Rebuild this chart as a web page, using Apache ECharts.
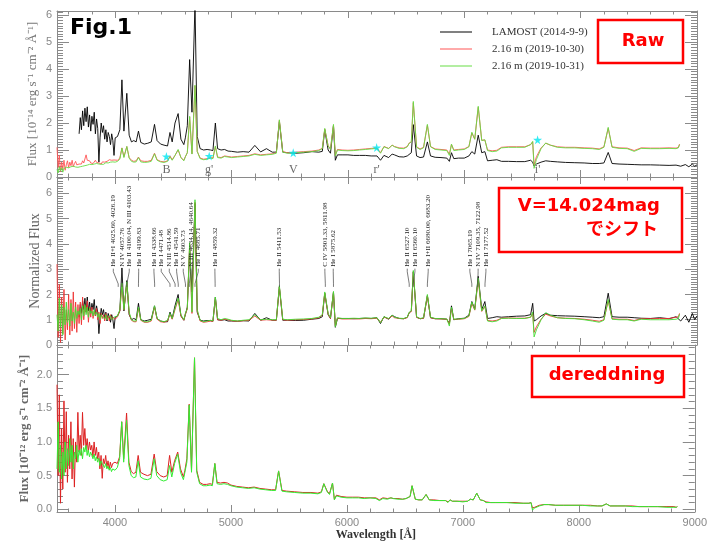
<!DOCTYPE html>
<html><head><meta charset="utf-8">
<script src="https://cdn.jsdelivr.net/npm/echarts@6/dist/echarts.min.js"></script>
<style>html,body{margin:0;padding:0;background:#fff}#c{width:710px;height:542px}</style>
</head><body><div id="c"></div>
<script>
// ---------- wavelength grids (Angstrom) ----------
const WAVE216 = [
3500,3510,3520,3530,3540,3550,3560,3570,3580,3590,
3600,3610,3620,3630,3640,3650,3660,3670,3680,3690,
3700,3710,3720,3730,3740,3750,3760,3770,3780,3790,
3800,3810,3820,3830,3840,3850,3860,3870,3880,3890,
3900,3910,3920,3930,3940,3950,3960,3970,3980,3990,
4000,4020,4040,4058,4075,4100,4120,4140,4160,4180,
4200,4220,4250,4280,4310,4338,4360,4390,4420,4450,
4471,4490,4514,4541,4565,4590,4603,4620,4640,4660,
4686,4705,4730,4760,4790,4820,4840,4861,4880,4910,
4940,4970,5000,5050,5100,5150,5200,5250,5300,5350,
5385,5411,5440,5480,5550,5620,5690,5750,5780,5801,
5830,5850,5876,5892,5910,5950,6000,6050,6100,6150,
6200,6250,6280,6310,6350,6380,6400,6440,6480,6510,
6527,6545,6562,6590,6620,6650,6683,6710,6750,6800,
6850,6872,6890,6910,6950,7000,7040,7065,7090,7120,
7150,7177,7200,7240,7280,7320,7380,7450,7520,7570,
7588,7600,7620,7660,7700,7740,7800,7870,7950,8030,
8100,8160,8200,8237,8270,8330,8400,8460,8520,8600,
8680,8760,8820,8840,8850];
const WAVE_LAMOST = [
3690,3700,3710,3720,3730,3740,3750,3760,3770,3780,
3790,3800,3810,3820,3830,3840,3850,3860,3870,3880,
3890,3900,3910,3920,3930,3940,3950,3960,3970,3980,
3990,4000,4020,4040,4058,4075,4100,4120,4140,4160,
4180,4200,4220,4250,4280,4310,4338,4360,4390,4420,
4450,4471,4490,4514,4541,4565,4590,4603,4620,4640,
4660,4686,4705,4730,4760,4790,4820,4840,4861,4880,
4910,4940,4970,5000,5050,5100,5150,5200,5250,5300,
5350,5385,5411,5440,5480,5550,5620,5690,5750,5780,
5801,5830,5850,5876,5892,5910,5950,6000,6050,6100,
6150,6200,6250,6280,6310,6350,6380,6400,6440,6480,
6510,6527,6545,6562,6590,6620,6650,6683,6710,6750,
6800,6850,6872,6890,6910,6950,7000,7040,7065,7090,
7120,7150,7177,7200,7240,7280,7320,7380,7450,7520,
7570,7588,7600,7620,7660,7700,7740,7800,7870,7950,
8030,8100,8160,8200,8237,8270,8330,8400,8460,8520,
8600,8680,8760,8820,8860,8900,8930,8960,8980,9000];

// ---------- panel 1: raw flux (1e-14) ----------
const rawLamost = [
1.60,2.20,1.75,2.45,1.90,2.55,2.05,2.60,1.85,2.30,
1.70,2.25,1.95,2.40,1.60,2.15,1.80,0.55,1.45,2.00,
1.65,1.90,1.40,1.75,1.30,1.65,1.50,1.20,1.60,1.35,
0.80,1.45,1.50,1.75,3.60,1.70,3.10,1.55,1.30,1.35,
1.30,1.70,1.28,1.22,1.25,1.30,1.95,1.35,1.22,1.18,
1.15,1.65,1.30,2.00,2.35,1.40,1.20,1.45,1.90,4.35,
2.40,6.40,1.50,1.05,1.00,1.02,1.00,0.98,2.00,1.05,
1.00,1.02,0.96,0.95,0.92,0.94,0.92,1.17,0.93,1.05,
0.92,0.92,2.05,0.92,0.90,0.88,0.90,0.94,0.92,0.95,
1.75,1.00,0.88,1.90,0.62,0.82,0.82,0.82,0.80,0.80,
0.80,0.78,0.78,0.62,0.80,0.72,0.85,0.82,0.75,0.74,
0.78,0.85,0.90,1.94,0.78,0.72,0.74,1.30,0.78,0.73,
0.72,0.70,0.58,0.90,0.68,0.70,0.70,0.78,0.94,0.85,
1.55,0.90,0.94,0.60,0.62,0.64,0.58,0.58,0.57,0.57,
0.62,0.55,0.40,0.48,0.55,0.60,0.58,0.56,0.54,0.53,
0.52,0.50,0.50,0.52,0.91,0.50,0.48,0.47,0.46,0.45,
0.45,0.44,0.43,0.44,0.40,0.46,0.38,0.48,0.40,0.45];
const raw1030 = [
1.10,0.35,0.80,0.20,0.55,0.30,0.62,0.25,0.45,0.60,
0.35,0.55,0.42,0.62,0.38,0.50,0.58,0.45,0.52,0.48,
0.55,0.48,0.60,0.52,0.58,0.82,0.62,0.55,0.60,0.52,
0.58,0.50,0.56,0.62,0.54,0.60,0.52,0.58,0.48,0.56,
0.60,0.55,0.62,0.58,0.56,0.64,0.58,0.62,0.60,0.63,
0.60,0.62,0.70,1.08,0.75,1.13,0.72,0.62,0.58,0.60,
0.74,0.60,0.58,0.58,0.62,0.88,0.64,0.58,0.56,0.60,
0.78,0.64,0.80,1.00,0.72,0.62,0.75,0.90,2.22,0.86,
3.38,0.95,0.70,0.66,0.68,0.72,0.70,1.12,0.74,0.72,
0.78,0.76,0.74,0.76,0.78,0.80,0.86,0.82,0.84,0.86,
0.90,2.10,0.94,0.90,0.92,0.94,0.96,1.00,1.06,1.78,
1.16,1.04,1.92,0.80,1.02,1.00,0.99,1.00,1.02,1.04,
1.06,1.08,0.90,1.13,1.06,1.18,1.13,1.08,1.07,1.13,
1.26,1.30,2.75,1.12,1.04,1.10,1.92,1.13,1.04,1.02,
1.00,0.85,1.20,1.00,1.02,1.04,1.13,1.63,1.40,2.58,
1.36,1.37,1.00,0.97,0.99,1.10,1.12,1.12,1.12,1.20,
1.30,0.45,0.75,1.08,1.25,1.18,1.12,1.10,1.10,1.08,
1.07,1.04,1.12,1.80,1.12,1.08,1.07,0.98,1.08,1.07,
1.07,1.08,1.07,1.10,1.22];
const raw1031 = [
0.28,0.15,0.38,0.22,0.35,0.18,0.32,0.26,0.36,0.30,
0.34,0.28,0.38,0.32,0.40,0.33,0.37,0.42,0.36,0.40,
0.38,0.44,0.40,0.46,0.42,0.48,0.44,0.41,0.47,0.43,
0.46,0.42,0.48,0.45,0.50,0.44,0.48,0.42,0.47,0.50,
0.47,0.50,0.53,0.49,0.52,0.50,0.55,0.52,0.56,0.53,
0.55,0.58,0.66,1.07,0.72,1.13,0.70,0.58,0.55,0.56,
0.72,0.56,0.54,0.55,0.58,0.86,0.62,0.56,0.54,0.58,
0.75,0.62,0.80,1.02,0.72,0.60,0.75,0.90,2.25,0.85,
3.40,0.95,0.68,0.64,0.66,0.70,0.68,1.15,0.72,0.70,
0.76,0.74,0.72,0.74,0.76,0.78,0.84,0.80,0.82,0.84,
0.88,2.12,0.92,0.88,0.90,0.92,0.94,0.98,1.05,1.80,
1.15,1.02,1.95,0.78,1.00,0.98,0.97,0.98,1.00,1.02,
1.04,1.06,0.88,1.12,1.05,1.18,1.12,1.06,1.05,1.12,
1.25,1.30,2.80,1.10,1.02,1.08,1.95,1.12,1.02,1.00,
0.98,0.80,1.22,0.98,1.00,1.02,1.12,1.66,1.40,2.62,
1.35,1.38,0.98,0.94,0.96,1.08,1.10,1.10,1.10,1.20,
1.32,0.32,0.65,1.05,1.26,1.18,1.10,1.08,1.08,1.06,
1.05,1.02,1.10,1.84,1.10,1.06,1.05,0.95,1.06,1.05,
1.05,1.06,1.05,1.08,1.20];

// ---------- panel 2: normalized flux ----------
const normLamost = [
1.10,1.60,1.25,1.75,1.40,1.85,1.30,1.90,1.35,1.70,
1.25,1.65,1.40,1.80,1.15,1.55,1.30,0.45,1.05,1.45,
1.20,1.40,1.05,1.30,0.95,1.25,1.10,0.90,1.20,1.00,
0.65,1.10,1.15,1.35,3.05,1.35,2.55,1.20,1.00,1.05,
1.00,1.65,1.00,0.95,0.98,1.02,1.55,1.05,0.95,0.92,
0.92,1.30,1.05,1.55,2.00,1.15,0.98,1.20,1.50,3.85,
2.10,5.60,1.30,0.98,0.95,0.97,0.96,0.94,1.90,1.00,
0.98,1.00,0.95,0.95,0.94,0.96,0.95,1.25,0.98,1.08,
0.98,0.98,2.30,0.98,0.98,0.97,0.98,1.02,1.05,1.12,
2.05,1.20,1.05,2.10,0.70,1.05,1.05,1.05,1.04,1.05,
1.06,1.05,1.08,0.85,1.12,1.02,1.18,1.12,1.05,1.04,
1.10,1.28,1.35,2.90,1.10,1.04,1.06,1.95,1.08,1.04,
1.04,1.02,0.85,1.55,1.00,1.04,1.06,1.18,1.72,1.42,
2.72,1.40,1.72,1.05,1.08,1.12,1.10,1.12,1.14,1.15,
1.20,1.65,0.95,1.00,1.15,1.25,1.18,1.16,1.15,1.14,
1.12,1.10,1.08,1.12,2.05,1.12,1.10,1.10,1.08,1.06,
1.05,1.08,1.04,1.12,0.95,1.18,0.90,1.25,1.00,1.15];
const norm1030 = [
3.20,0.30,2.40,0.10,1.90,0.45,2.20,0.20,1.40,0.60,
2.00,0.40,1.80,0.55,2.10,0.65,1.70,0.50,1.60,0.85,
1.70,0.80,1.90,1.00,1.55,1.30,1.75,0.90,1.50,1.10,
1.50,1.05,1.35,1.15,1.45,1.00,1.30,0.85,1.25,1.05,
1.20,0.95,1.25,1.00,1.15,0.95,1.20,1.00,1.10,1.05,
1.02,1.12,1.35,2.40,1.38,2.45,1.25,0.98,0.92,0.92,
1.45,0.98,0.90,0.90,0.95,1.50,1.02,0.92,0.90,0.95,
1.22,1.02,1.40,1.80,1.15,0.98,1.22,1.42,4.00,1.25,
5.65,1.35,0.95,0.90,0.92,0.95,0.93,1.85,1.00,0.98,
1.02,1.00,0.96,0.94,0.96,0.98,1.15,0.98,1.00,0.98,
0.98,2.30,1.00,0.98,1.00,1.01,1.03,1.08,1.18,2.05,
1.22,1.05,2.08,0.75,1.06,1.03,1.03,1.04,1.03,1.05,
1.04,1.06,0.90,1.10,1.04,1.15,1.08,1.05,1.04,1.08,
1.28,1.32,2.88,1.10,1.04,1.06,1.95,1.08,1.04,1.03,
1.02,0.82,1.45,1.01,1.02,1.04,1.13,1.65,1.38,2.58,
1.33,1.52,0.97,0.95,0.98,1.06,1.07,1.06,1.06,1.10,
1.25,0.50,0.72,1.02,1.22,1.15,1.08,1.06,1.05,1.02,
0.98,0.94,1.00,1.75,1.04,1.02,1.02,0.97,1.04,1.04,
1.05,1.05,1.10,1.12,1.25];
const norm1031 = [
1.20,0.55,1.85,0.70,1.60,0.40,1.50,0.80,1.70,0.90,
1.40,0.75,1.65,0.95,1.30,0.85,1.50,1.05,1.35,1.20,
1.45,1.00,1.55,1.15,1.60,1.20,1.50,1.10,1.45,1.25,
1.35,1.15,1.40,1.20,1.30,1.10,1.25,1.00,1.20,1.10,
1.15,1.05,1.20,1.00,1.10,1.05,1.15,1.00,1.05,1.10,
1.05,1.15,1.40,2.45,1.40,2.50,1.30,1.00,0.95,0.95,
1.50,1.00,0.92,0.92,0.98,1.55,1.05,0.95,0.92,0.98,
1.25,1.05,1.45,1.85,1.20,1.00,1.25,1.45,4.05,1.30,
5.75,1.40,0.98,0.92,0.95,0.98,0.95,1.90,1.05,1.00,
1.05,1.02,0.98,0.95,0.98,1.00,1.20,1.00,1.02,1.00,
1.00,2.35,1.02,1.00,1.02,1.03,1.05,1.10,1.20,2.10,
1.25,1.08,2.12,0.72,1.08,1.05,1.05,1.06,1.05,1.07,
1.06,1.08,0.88,1.12,1.05,1.18,1.10,1.06,1.05,1.10,
1.30,1.35,2.95,1.12,1.05,1.08,2.00,1.10,1.05,1.04,
1.03,0.75,1.50,1.02,1.03,1.05,1.15,1.70,1.40,2.65,
1.35,1.55,0.95,0.92,0.95,1.05,1.06,1.05,1.05,1.10,
1.30,0.32,0.60,1.00,1.28,1.18,1.08,1.05,1.04,1.00,
0.95,0.90,0.98,1.80,1.02,1.00,1.00,0.95,1.02,1.00,
1.00,1.00,1.02,1.05,1.22];

// ---------- panel 3: dereddened flux (1e-12) ----------
const dered1030 = [
1.85,0.50,1.70,0.09,1.20,0.30,1.61,0.55,1.45,0.40,
1.10,0.60,1.30,0.45,1.05,0.33,1.00,0.70,1.44,0.85,
1.10,0.80,1.44,0.95,1.20,0.90,1.05,0.85,1.00,0.88,
0.95,0.78,1.00,0.80,0.92,0.75,0.85,0.60,0.80,0.46,
0.75,0.68,0.80,0.62,0.72,0.60,0.70,0.62,0.68,0.70,
0.70,0.68,0.78,1.30,0.75,1.43,0.70,0.56,0.53,0.55,
0.80,0.55,0.52,0.50,0.52,0.82,0.56,0.50,0.48,0.50,
0.80,0.55,0.72,0.85,0.60,0.48,0.58,0.75,1.56,0.58,
2.25,0.58,0.40,0.37,0.37,0.38,0.37,0.68,0.40,0.39,
0.40,0.39,0.36,0.34,0.33,0.32,0.33,0.31,0.30,0.29,
0.29,0.57,0.28,0.27,0.26,0.25,0.25,0.24,0.26,0.38,
0.27,0.23,0.39,0.15,0.21,0.19,0.18,0.18,0.18,0.17,
0.17,0.17,0.14,0.17,0.16,0.17,0.16,0.16,0.15,0.16,
0.18,0.19,0.35,0.15,0.14,0.14,0.22,0.14,0.14,0.13,
0.13,0.11,0.14,0.12,0.12,0.12,0.12,0.15,0.14,0.24,
0.14,0.13,0.11,0.10,0.10,0.10,0.10,0.10,0.09,0.09,
0.10,0.02,0.03,0.06,0.07,0.07,0.06,0.06,0.06,0.06,
0.06,0.05,0.05,0.08,0.05,0.05,0.05,0.05,0.04,0.04,
0.04,0.04,0.04,0.03,0.04];
const dered1031 = [
0.60,1.30,0.55,0.95,0.45,0.85,0.50,1.00,0.60,0.90,
0.65,1.05,0.70,0.95,0.60,0.85,0.75,0.95,0.70,0.88,
0.80,0.90,0.75,0.92,0.85,0.95,0.80,0.88,0.78,0.85,
0.80,0.75,0.82,0.72,0.78,0.70,0.76,0.65,0.72,0.68,
0.66,0.62,0.68,0.60,0.64,0.58,0.62,0.56,0.60,0.58,
0.58,0.62,0.75,1.30,0.70,1.32,0.65,0.50,0.47,0.48,
0.72,0.48,0.45,0.44,0.46,0.75,0.50,0.44,0.42,0.44,
0.65,0.48,0.68,0.82,0.55,0.44,0.55,0.70,1.55,0.55,
2.25,0.55,0.38,0.35,0.35,0.36,0.35,0.68,0.38,0.37,
0.38,0.37,0.35,0.33,0.32,0.31,0.32,0.30,0.29,0.28,
0.28,0.57,0.27,0.26,0.25,0.24,0.24,0.23,0.25,0.38,
0.26,0.22,0.39,0.14,0.20,0.18,0.17,0.17,0.17,0.16,
0.17,0.16,0.13,0.16,0.15,0.17,0.16,0.15,0.15,0.16,
0.18,0.19,0.35,0.15,0.14,0.14,0.22,0.14,0.13,0.13,
0.13,0.10,0.14,0.12,0.12,0.11,0.12,0.15,0.14,0.24,
0.14,0.13,0.10,0.10,0.10,0.10,0.10,0.09,0.09,0.09,
0.10,-0.01,0.02,0.05,0.07,0.07,0.06,0.06,0.06,0.06,
0.05,0.05,0.05,0.08,0.05,0.05,0.05,0.04,0.04,0.04,
0.04,0.03,0.03,0.03,0.04];

// ---------- photometric bands (top panel) ----------
const bandNames = ['B', "g'", 'V', "r'", "i'"];
const bandWave  = [4440, 4808, 5530, 6247, 7630];
const bandFlux  = [0.76, 0.78, 0.90, 1.09, 1.38];

// ---------- line identifications (middle panel) ----------
const lineText = ['He II+I 4025.60, 4026.19','N IV 4057.76','He II 4100.04, N III 4103.43','He II 4199.83',
 'He II 4338.66','He I 4471.48','N III 4514.86','He II 4541.59','N V 4603.73','N III 4634.14, 4640.64',
 'He II 4685.71','He II 4859.32','He II 5411.53','C IV 5801.33, 5811.98','He I 5875.62',
 'He II 6527.10','He II 6560.10','He I+II 6680.00, 6683.20','He I 7065.19','N IV 7109.35, 7122.98','He II 7177.52'];
const lineWave = [4026,4058,4100,4200,4339,4471,4515,4542,4604,4637,4686,4859,5412,5806,5876,6527,6560,6683,7065,7116,7178];
const lineLabelAt = [3984,4056,4121,4202,4333,4396,4465,4528,4585,4649,4714,4857,5410,5802,5874,6510,6576,6690,7048,7119,7186];

const legendNames = ['LAMOST (2014-9-9)', '2.16 m (2019-10-30)', '2.16 m (2019-10-31)'];

function pairs(w, v) { const n = Math.min(w.length, v.length); const o = []; for (let i = 0; i < n; i++) o.push([w[i], v[i]]); return o; }

const SERIF = 'Liberation Serif';
const SANS = 'Liberation Sans';
const AX = '#8a8a8a';

const grids = [
  {left: 57, right: 13, top: 11, height: 166},
  {left: 57, right: 13, top: 177, height: 168},
  {left: 57, right: 13, top: 345, height: 167}
];
const xAxes = [], yAxes = [];
for (let g = 0; g < 3; g++) {
  ['bottom', 'top'].forEach(function (pos) {
    xAxes.push({
      type: 'value', gridIndex: g, position: pos, min: 3500, max: 9000, splitNumber: 5,
      axisLine: {show: true, onZero: false, lineStyle: {color: AX, width: 1}},
      axisTick: {show: true, inside: true, length: 7, lineStyle: {color: AX}},
      minorTick: {show: true, splitNumber: 5, length: 3.5, lineStyle: {color: AX}},
      splitLine: {show: false},
      axisLabel: {show: g === 2 && pos === 'bottom', showMinLabel: false, color: '#888', fontFamily: SANS, fontSize: 11, margin: 5,
        formatter: function (v) { return String(Math.round(v)); }},
      name: (g === 2 && pos === 'bottom') ? 'Wavelength [Å]' : '',
      nameLocation: 'middle', nameGap: 17, nameMoveOverlap: false,
      nameTextStyle: {fontFamily: SERIF, fontWeight: 'bold', fontSize: 12, color: '#333'}
    });
  });
}
const yCfg = [
  {min: 0, max: 6.15, interval: 1, minor: 10, fmt: null, name: 'Flux [10⁻¹⁴ erg s⁻¹ cm⁻² Å⁻¹]', gap: 18, fs: 13, fw: 'normal', col: '#777'},
  {min: 0, max: 6.65, interval: 1, minor: 10, fmt: null, name: 'Normalized Flux', gap: 15, fs: 14, fw: 'normal', col: '#666'},
  {min: -0.04, max: 2.44, interval: null, minor: 5, fmt: function (v) { return v.toFixed(1); }, name: 'Flux [10⁻¹² erg s⁻¹ cm⁻² Å⁻¹]', gap: 26, fs: 13, fw: 'bold', col: '#666'}
];
for (let g = 0; g < 3; g++) {
  const c = yCfg[g];
  ['left', 'right'].forEach(function (pos) {
    const ax = {
      type: 'value', gridIndex: g, position: pos, min: c.min, max: c.max,
      axisLine: {show: true, onZero: false, lineStyle: {color: AX, width: 1}},
      axisTick: {show: true, inside: true, length: 12, lineStyle: {color: AX}},
      minorTick: {show: true, splitNumber: c.minor, length: 6, lineStyle: {color: AX}},
      splitLine: {show: false},
      axisLabel: {show: pos === 'left', showMinLabel: g === 2 ? false : true, showMaxLabel: false, color: '#888', fontFamily: SANS, fontSize: 11, margin: 5},
      name: pos === 'left' ? c.name : '', nameLocation: 'middle', nameRotate: 90, nameGap: c.gap, nameMoveOverlap: false,
      nameTextStyle: {fontFamily: SERIF, fontSize: c.fs, fontWeight: c.fw, color: c.col}
    };
    if (c.interval) ax.interval = c.interval; else ax.splitNumber = 5;
    if (c.fmt) ax.axisLabel.formatter = c.fmt;
    yAxes.push(ax);
  });
}

function lineSeries(name, data, g, color, width, z) {
  return {type: 'line', name: name, data: data, xAxisIndex: g * 2, yAxisIndex: g * 2,
    showSymbol: false, symbol: 'none', clip: true, z: z || 2, animation: false,
    lineStyle: {color: color, width: width}, itemStyle: {color: color}};
}

const starPath = 'path://M50,0 L61,35 L98,35 L68,57 L79,91 L50,70 L21,91 L32,57 L2,35 L39,35 Z';

const series = [
  lineSeries(legendNames[0], pairs(WAVE_LAMOST, rawLamost), 0, '#000000', 0.9, 2),
  lineSeries(legendNames[1], pairs(WAVE216, raw1030), 0, '#ff5555', 0.9, 3),
  lineSeries(legendNames[2], pairs(WAVE216, raw1031), 0, '#66dd44', 0.9, 4),
  {type: 'scatter', name: 'bands', xAxisIndex: 0, yAxisIndex: 0, symbol: starPath, symbolSize: 9, z: 6,
    itemStyle: {color: '#00e6f0'}, data: bandWave.map(function (w, i) { return [w, bandFlux[i]]; })},
  {type: 'scatter', name: 'bandLabels', xAxisIndex: 0, yAxisIndex: 0, symbolSize: 0, z: 6,
    label: {show: true, position: 'inside', formatter: function (p) { return bandNames[p.dataIndex]; },
      fontFamily: SERIF, fontSize: 12, color: '#444'},
    data: bandWave.map(function (w) { return [w, 0.26]; })},
  lineSeries('mLAMOST', pairs(WAVE_LAMOST, normLamost), 1, '#000000', 0.9, 2),
  lineSeries('m1030', pairs(WAVE216, norm1030), 1, '#ee3333', 0.9, 3),
  lineSeries('m1031', pairs(WAVE216, norm1031), 1, '#44dd33', 0.9, 4),
  {type: 'custom', name: 'lineIDs', xAxisIndex: 2, yAxisIndex: 2, z: 8, clip: false,
    data: lineWave.map(function (w, i) { return [w, lineLabelAt[i]]; }),
    renderItem: function (params, api) {
      const lw = api.value(0), tw = api.value(1);
      const pT = api.coord([tw, 3.1]);
      const p1 = api.coord([tw, 2.9]);
      const p2 = api.coord([lw, 2.42]);
      const p3 = api.coord([lw, 2.3]);
      return {type: 'group', children: [
        {type: 'polyline', shape: {points: [[pT[0], pT[1] + 2], p1, p2, p3]}, style: {stroke: '#444', lineWidth: 0.7, fill: null}},
        {type: 'text', x: pT[0], y: pT[1], rotation: Math.PI / 2,
          style: {text: lineText[params.dataIndex], font: '7px "Liberation Serif"', fill: '#222', align: 'left', verticalAlign: 'middle'}}
      ]};
    }},
  lineSeries('d1031', pairs(WAVE216, dered1031), 2, '#33ee33', 1, 3),
  lineSeries('d1030', pairs(WAVE216, dered1030), 2, '#dd2222', 1, 2)
];

const chart = echarts.init(document.getElementById('c'), null, {renderer: 'canvas'});
chart.setOption({
  animation: false,
  backgroundColor: '#ffffff',
  grid: grids,
  xAxis: xAxes,
  yAxis: yAxes,
  legend: {data: legendNames, orient: 'vertical', left: 435, top: 19, icon: 'rect', itemWidth: 32, itemHeight: 1,
    itemGap: 1, selectedMode: false,
    textStyle: {fontFamily: SERIF, fontSize: 11, color: '#333', lineHeight: 16, padding: [0, 0, 0, 15]}},
  series: series,
  graphic: [
    {type: 'text', left: 70, top: 17, z: 100, style: {text: 'Fig.1', font: 'bold 22px "DejaVu Sans"', fill: '#000'}},
    {type: 'rect', z: 100, shape: {x: 598, y: 20, width: 85, height: 43}, style: {fill: '#fff', stroke: '#ff0000', lineWidth: 2.5}},
    {type: 'text', z: 101, x: 643, y: 41.5, style: {text: 'Raw', font: 'bold 18px "DejaVu Sans"', fill: '#ff0000', align: 'center', verticalAlign: 'middle'}},
    {type: 'rect', z: 100, shape: {x: 499, y: 188, width: 183, height: 64}, style: {fill: '#fff', stroke: '#ff0000', lineWidth: 2.5}},
    {type: 'text', z: 101, x: 660, y: 206, style: {text: 'V=14.024mag', font: 'bold 18px "DejaVu Sans"', fill: '#ff0000', align: 'right', verticalAlign: 'middle'}},
    {type: 'text', z: 101, x: 658, y: 228, style: {text: 'でシフト', font: 'bold 18px "Noto Sans CJK JP"', fill: '#ff0000', align: 'right', verticalAlign: 'middle'}},
    {type: 'rect', z: 100, shape: {x: 532, y: 356, width: 152, height: 41}, style: {fill: '#fff', stroke: '#ff0000', lineWidth: 2.5}},
    {type: 'text', z: 101, x: 607, y: 375, style: {text: 'dereddning', font: 'bold 18px "DejaVu Sans"', fill: '#ff0000', align: 'center', verticalAlign: 'middle'}}
  ]
});
</script></body></html>
